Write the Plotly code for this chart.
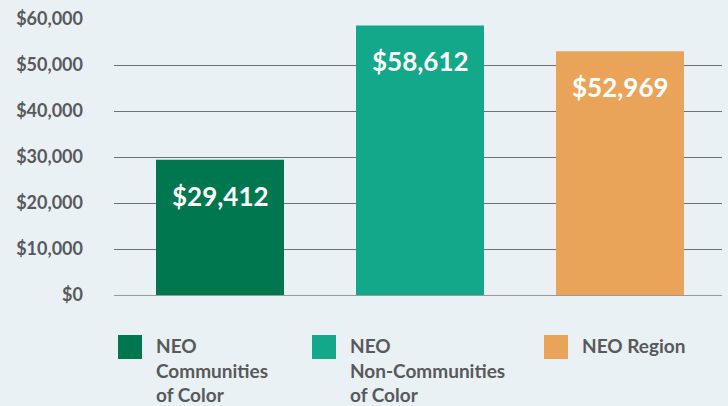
import plotly.graph_objects as go

categories = ["NEO Communities of Color", "NEO Non-Communities of Color", "NEO Region"]
legend_labels = ["NEO<br>Communities<br>of Color", "NEO<br>Non-Communities<br>of Color", "NEO Region"]
values = [29412, 58612, 52969]
colors = ["#00774f", "#12a889", "#eaa45a"]

W, H = 728, 406
M_L, M_R, M_T, M_B = 114, 6, 19, 111
BG = "#e9f1f5"
TEXT = "#58595b"
FONT = "Lato"


def px_x(p):
    return (p - M_L) / (W - M_L - M_R)


def px_y(p):
    return (H - M_B - p) / (H - M_T - M_B)


fig = go.Figure()
fig.add_trace(
    go.Bar(
        x=categories,
        y=values,
        marker=dict(color=colors, line=dict(width=0)),
        width=0.64,
        showlegend=False,
        hoverinfo="skip",
    )
)

# value labels near the top of each bar
for cat, val in zip(categories, values):
    fig.add_annotation(
        x=cat, y=val, yshift=-36, yanchor="middle",
        text=f"<b>${val:,}</b>", showarrow=False,
        font=dict(family=FONT, size=26, color="white"),
    )

# legend, drawn by hand to get the big swatches
legend_x = [118, 312, 544]
for lab, col, lx in zip(legend_labels, colors, legend_x):
    fig.add_shape(
        type="rect", xref="paper", yref="paper",
        x0=px_x(lx), x1=px_x(lx + 24), y0=px_y(359), y1=px_y(335),
        fillcolor=col, line=dict(width=0),
    )
    fig.add_annotation(
        xref="paper", yref="paper", x=px_x(lx + 36), y=px_y(332),
        xanchor="left", yanchor="top", align="left",
        text=f"<b>{lab}</b>", showarrow=False,
        font=dict(family=FONT, size=19, color=TEXT),
    )

fig.update_layout(
    width=W, height=H,
    margin=dict(l=M_L, r=M_R, t=M_T, b=M_B),
    paper_bgcolor=BG,
    plot_bgcolor=BG,
    xaxis=dict(showticklabels=False, showgrid=False, range=[-0.53, 2.51], fixedrange=True),
    yaxis=dict(
        range=[0, 60000], dtick=10000, tickprefix="$", tickformat=",d",
        showgrid=True, gridcolor="#707070", gridwidth=1,
        zeroline=True, zerolinecolor="#9a9a9a", zerolinewidth=1,
        tickfont=dict(family=FONT, size=18, color=TEXT, weight="bold"),
        ticks="", ticklabelstandoff=30, fixedrange=True,
    ),
    font=dict(family=FONT),
)

fig.write_html(
    "out.html",
    config={"displayModeBar": False},
    post_script="document.body.style.margin='0';",
)
